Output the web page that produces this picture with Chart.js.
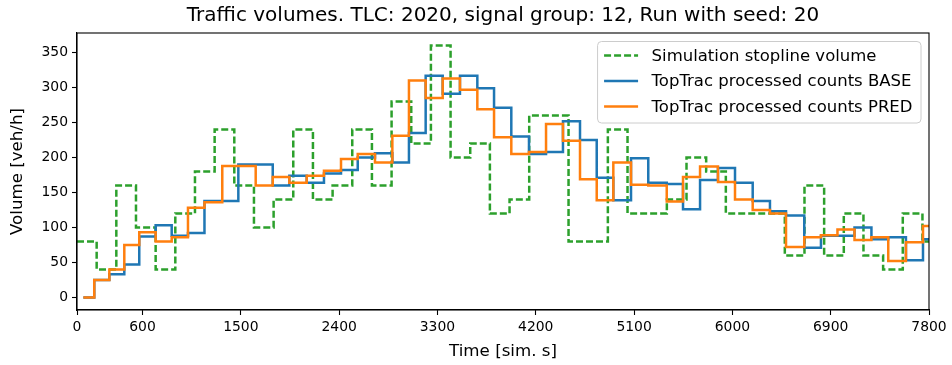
<!DOCTYPE html>
<html>
<head>
<meta charset="utf-8">
<script src="https://cdn.jsdelivr.net/npm/chart.js@4.4.1/dist/chart.umd.min.js"></script>
<style>
  html, body { margin: 0; padding: 0; background: #fff; }
</style>
</head>
<body>
<canvas id="volumeChart" width="952" height="365"></canvas>
<script>
// Simulation stopline volume, 180 s bins (start of bin, veh/h)
const simTimes = [0, 180, 360, 540, 720, 900, 1080, 1260, 1440, 1620, 1800, 1980, 2160, 2340, 2520,
  2700, 2880, 3060, 3240, 3420, 3600, 3780, 3960, 4140, 4320, 4500, 4680, 4860, 5040, 5220,
  5400, 5580, 5760, 5940, 6120, 6300, 6480, 6660, 6840, 7020, 7200, 7380, 7560, 7740];
const simVolume = [80, 40, 160, 100, 40, 120, 180, 240, 160, 100, 140, 240, 140, 160, 240,
  160, 280, 220, 360, 200, 220, 120, 140, 260, 260, 80, 80, 240, 120, 120,
  140, 200, 180, 120, 120, 120, 60, 160, 60, 120, 60, 40, 120, 80];

// TopTrac counts, per cycle (start of cycle, veh/h)
const cycleTimes = [58, 158, 296, 433, 570, 720, 867, 1016, 1167, 1330, 1477, 1636, 1792, 1944, 2103,
  2261, 2417, 2570, 2728, 2887, 3039, 3192, 3348, 3506, 3665, 3818, 3976, 4138, 4294, 4449,
  4605, 4758, 4910, 5072, 5230, 5399, 5548, 5704, 5868, 6024, 6186, 6344, 6491, 6658, 6811,
  6962, 7118, 7273, 7427, 7589, 7745];
const baseCounts = [0, 25, 33, 47, 87, 103, 88, 92, 138, 138, 190, 190, 160, 174, 164,
  177, 182, 200, 206, 193, 235, 317, 291, 317, 299, 271, 230, 205, 208, 252,
  225, 171, 139, 199, 164, 162, 126, 168, 185, 164, 138, 123, 117, 71, 88,
  88, 100, 83, 86, 53, 83];
const predCounts = [0, 25, 40, 75, 93, 80, 86, 128, 136, 188, 188, 160, 172, 164, 174,
  181, 198, 205, 193, 231, 310, 285, 313, 297, 269, 229, 205, 208, 248, 224,
  169, 139, 193, 161, 160, 137, 172, 187, 165, 140, 125, 120, 72, 86, 89,
  97, 82, 86, 52, 79, 102];

const simEnd = 7800;
const xTicks = [0, 600, 1500, 2400, 3300, 4200, 5100, 6000, 6900, 7800];
const yTicks = [0, 50, 100, 150, 200, 250, 300, 350];

const FONT = 'DejaVu Sans';

// hold the last value until the end of the run
const toSteps = (times, vals) =>
  times.map((t, i) => ({ x: t, y: vals[i] })).concat({ x: simEnd, y: vals[vals.length - 1] });

// full box around the axes
const frame = {
  id: 'frame',
  afterDatasetsDraw(chart) {
    const { ctx, chartArea: a } = chart;
    ctx.save();
    ctx.strokeStyle = '#000';
    ctx.lineWidth = 1.1;
    ctx.strokeRect(a.left, a.top, a.right - a.left, a.bottom - a.top);
    ctx.restore();
  }
};

// title above the axes
const topTitle = {
  id: 'topTitle',
  afterDraw(chart) {
    const { ctx, chartArea: a } = chart;
    ctx.save();
    ctx.fillStyle = '#000';
    ctx.font = `20px "${FONT}"`;
    ctx.textAlign = 'center';
    ctx.textBaseline = 'middle';
    ctx.fillText('Traffic volumes. TLC: 2020, signal group: 12, Run with seed: 20', (a.left + a.right) / 2, 16);
    ctx.restore();
  }
};

// matplotlib style legend in the upper right corner
const boxLegend = {
  id: 'boxLegend',
  afterDraw(chart) {
    const { ctx, chartArea: a } = chart;
    const sets = chart.data.datasets;
    ctx.save();
    ctx.font = `16.5px "${FONT}"`;
    const textW = Math.max(...sets.map(d => ctx.measureText(d.label).width));
    const pad = 6.5, handle = 34, gap = 13.5, rowH = 25.5;
    const w = pad + handle + gap + textW + pad + 2;
    const h = rowH * sets.length + 5;
    const right = a.right - 8, top = a.top + 8.5;
    const left = right - w;

    ctx.beginPath();
    ctx.roundRect(left, top, w, h, 4);
    ctx.fillStyle = 'rgba(255,255,255,0.8)';
    ctx.fill();
    ctx.strokeStyle = '#cccccc';
    ctx.lineWidth = 1;
    ctx.stroke();

    sets.forEach((d, i) => {
      const y = top + 14 + i * rowH;
      ctx.beginPath();
      ctx.setLineDash(d.borderDash || []);
      ctx.strokeStyle = d.borderColor;
      ctx.lineWidth = d.borderWidth;
      ctx.moveTo(left + pad, y);
      ctx.lineTo(left + pad + handle, y);
      ctx.stroke();
      ctx.setLineDash([]);
      ctx.fillStyle = '#000';
      ctx.textBaseline = 'middle';
      ctx.fillText(d.label, left + pad + handle + gap, y + 1);
    });
    ctx.restore();
  }
};

new Chart(document.getElementById('volumeChart'), {
  type: 'line',
  data: {
    datasets: [
      {
        label: 'Simulation stopline volume',
        data: toSteps(simTimes, simVolume),
        borderColor: '#2ca02c',
        borderDash: [7, 3],
        borderWidth: 2.5,
        order: 3
      },
      {
        label: 'TopTrac processed counts BASE',
        data: toSteps(cycleTimes, baseCounts),
        borderColor: '#1f77b4',
        borderWidth: 2.5,
        order: 2
      },
      {
        label: 'TopTrac processed counts PRED',
        data: toSteps(cycleTimes, predCounts),
        borderColor: '#ff7f0e',
        borderWidth: 2.5,
        order: 1
      }
    ]
  },
  options: {
    responsive: false,
    animation: false,
    layout: { padding: { top: 33, right: 23, left: 0, bottom: 0 } },
    elements: {
      point: { radius: 0 },
      line: { stepped: 'before', fill: false, tension: 0 }
    },
    plugins: {
      legend: { display: false },
      title: { display: false },
      tooltip: { enabled: false }
    },
    scales: {
      x: {
        type: 'linear',
        min: 0,
        max: simEnd,
        afterBuildTicks: s => { s.ticks = xTicks.map(v => ({ value: v })); },
        afterFit: s => { s.height = 55; },
        grid: { drawOnChartArea: false, tickLength: 5, tickColor: '#000', tickWidth: 1.1 },
        border: { color: '#000', width: 1.1 },
        ticks: { color: '#000', font: { family: FONT, size: 13.9 }, padding: 4, maxRotation: 0, callback: v => String(v) },
        title: { display: true, text: 'Time [sim. s]', color: '#000', font: { family: FONT, size: 16.67 }, padding: { top: 0, bottom: 3 } }
      },
      y: {
        min: -18,
        max: 378,
        afterBuildTicks: s => { s.ticks = yTicks.map(v => ({ value: v })); },
        afterFit: s => { s.width = 77; },
        grid: { drawOnChartArea: false, tickLength: 5, tickColor: '#000', tickWidth: 1.1 },
        border: { color: '#000', width: 1.1 },
        ticks: { color: '#000', font: { family: FONT, size: 13.9 }, padding: 4, callback: v => String(v) },
        title: { display: true, text: 'Volume [veh/h]', color: '#000', font: { family: FONT, size: 16.67 }, padding: { top: 8, bottom: 0 } }
      }
    }
  },
  plugins: [frame, topTitle, boxLegend]
});
</script>
</body>
</html>
